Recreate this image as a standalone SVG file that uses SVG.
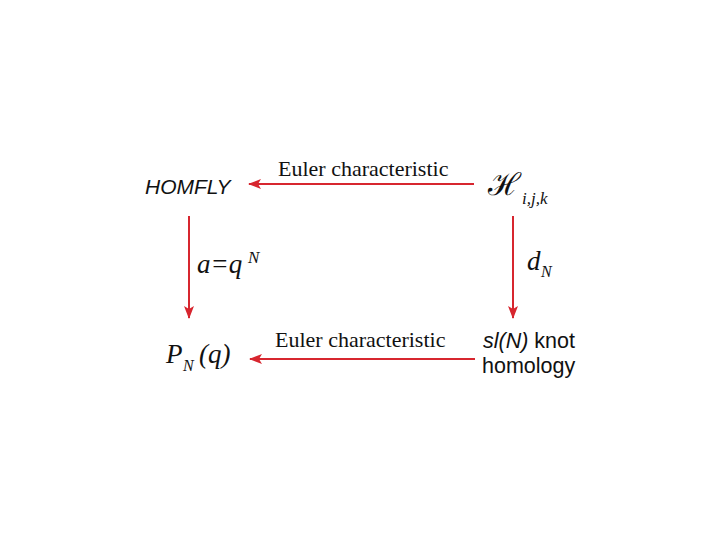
<svg xmlns="http://www.w3.org/2000/svg" width="720" height="540" viewBox="0 0 720 540">
<style>
.serif{font-family:"Liberation Serif","Times New Roman",serif;fill:#111}
.sans{font-family:"Liberation Sans",Arial,sans-serif;fill:#111}
.it{font-style:italic}
.conn{stroke:#d7262f;stroke-width:2;fill:none}
</style>
<defs>
<marker id="ah" viewBox="0 0 13 10" refX="12" refY="5" markerWidth="13" markerHeight="10" markerUnits="userSpaceOnUse" orient="auto">
<path d="M0,0 L13,5 L0,10 L3,5 Z" fill="#d7262f"/>
</marker>
</defs>
<rect width="720" height="540" fill="#fff"/>
<g id="connectors">
<line class="conn" x1="474" y1="184" x2="249" y2="184" marker-end="url(#ah)"/>
<line class="conn" x1="189" y1="216" x2="189" y2="318" marker-end="url(#ah)"/>
<line class="conn" x1="513" y1="216" x2="513" y2="318" marker-end="url(#ah)"/>
<line class="conn" x1="475" y1="359" x2="250" y2="359" marker-end="url(#ah)"/>
<text class="serif" x="278" y="176" font-size="22">Euler characteristic</text>
<text class="serif" x="275" y="347" font-size="22">Euler characteristic</text>
<text class="serif it" x="197" y="273" font-size="27">a=q</text>
<text class="serif it" x="248" y="263" font-size="17">N</text>
<text class="serif it" x="527" y="270" font-size="27">d</text>
<text class="serif it" x="541" y="277" font-size="16">N</text>
</g>
<g id="homfly">
<text class="sans it" x="145" y="194" font-size="21">HOMFLY</text>
</g>
<g id="hijk">
<text x="488" y="195" font-size="31" font-family="DejaVu Serif,serif" fill="#111">ℋ</text>
<text class="serif it" x="522" y="204" font-size="17">i,j,k</text>
</g>
<g id="pnq">
<text class="serif it" x="166" y="363" font-size="27">P</text>
<text class="serif it" x="183" y="371" font-size="16">N</text>
<text class="serif it" x="199" y="363" font-size="27">(q)</text>
</g>
<g id="slN">
<text class="sans" x="483" y="348" font-size="21.5"><tspan font-style="italic">sl(N)</tspan> knot</text>
<text class="sans" x="482" y="373" font-size="21.5">homology</text>
</g>
</svg>
